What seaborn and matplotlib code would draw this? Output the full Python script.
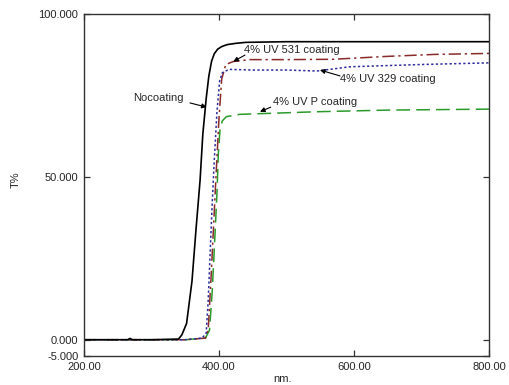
import numpy as np
import seaborn as sns
import matplotlib.pyplot as plt

# transmission spectra (nm, T%)
nm_none = [200, 265, 268, 272, 300, 340, 345, 352, 360, 366, 372, 376, 381, 385, 389, 393, 398, 404, 412, 425, 440, 500, 600, 700, 800]
t_none = [0, 0, 0.4, 0, 0, 0.2, 1.5, 5, 18, 34, 49, 63, 74, 81, 85.5, 87.8, 89.2, 90.0, 90.6, 91.0, 91.3, 91.5, 91.5, 91.5, 91.5]

nm_531 = [200, 350, 380, 384, 388, 392, 396, 400, 404, 410, 421, 446, 500, 569, 650, 720, 800]
t_531 = [0, 0, 0.5, 3, 18, 35, 52, 68, 80, 84.5, 85.4, 86, 86, 86.1, 87, 87.6, 87.9]

nm_329 = [200, 350, 375, 381, 384, 387, 390, 393, 397, 401, 405, 415, 450, 500, 545, 594, 700, 800]
t_329 = [0, 0, 0.5, 2, 12, 27, 42, 55, 70, 79.5, 82, 83, 82.8, 82.8, 82.5, 83.8, 84.5, 85]

nm_p = [200, 350, 380, 386, 390, 394, 397, 399, 401.5, 405, 411, 431, 446, 545, 650, 800]
t_p = [0, 0, 0.5, 3, 15, 32, 45, 57, 64.5, 67.2, 68.5, 69.2, 69.3, 70, 70.5, 70.8]

x_ticks = [200, 400, 600, 800]
y_ticks = [-5, 0, 50, 100]

sns.set_theme(style="white")
plt.rcParams['font.family'] = ['Liberation Sans', 'DejaVu Sans']

fig = plt.figure(figsize=(5.09, 3.85), dpi=100)
ax = fig.add_axes([0.165, 0.0753, 0.7957, 0.8883])

sns.lineplot(x=nm_p, y=t_p, ax=ax, color="#2a9a2a", lw=1.1, linestyle=(0, (9, 4)))
sns.lineplot(x=nm_531, y=t_531, ax=ax, color="#8b2a2a", lw=1.1, linestyle=(0, (8, 2.5, 1.5, 2.5)))
sns.lineplot(x=nm_329, y=t_329, ax=ax, color="#2e2e9e", lw=1.1, linestyle=(0, (1.5, 1.5)))
sns.lineplot(x=nm_none, y=t_none, ax=ax, color="black", lw=1.2)

ax.set_xlim(200, 800)
ax.set_ylim(-5, 100)
ax.set_xticks(x_ticks)
ax.set_xticklabels([f"{v:.2f}" for v in x_ticks])
ax.set_yticks(y_ticks)
ax.set_yticklabels([f"{v:.3f}" for v in y_ticks])
ax.tick_params(direction="in", length=4, width=0.9, color="#333333",
               labelsize=8, pad=4, top=True, right=True, bottom=True, left=True)

for s in ax.spines.values():
    s.set_color("#333333")
    s.set_linewidth(1.0)

ax.set_xlabel("nm.", fontsize=8)
ax.set_ylabel("T%", fontsize=8)
ax.xaxis.set_label_coords(0.49, -0.052)
ax.yaxis.set_label_coords(-0.156, 0.515)

# labels with arrows
notes = [
    ("Nocoating", (309.6, 74.2), (357, 72.7), (381.8, 71.4)),
    ("4% UV 531 coating", (507.4, 88.9), (438.5, 87.4), (421.2, 85.4)),
    ("4% UV 329 coating", (650.8, 80.0), (579.3, 81.0), (549.6, 82.8)),
    ("4% UV P coating", (542.2, 72.9), (476.6, 71.4), (460.7, 70.0)),
]
for txt, pos, tail, head in notes:
    ax.text(pos[0], pos[1], txt, fontsize=8, ha="center", va="center")
    ax.annotate("", xy=head, xytext=tail,
                arrowprops=dict(arrowstyle="-|>", color="black", lw=0.8,
                                mutation_scale=7, shrinkA=0, shrinkB=0))

fig.savefig("out.png", dpi=100)
